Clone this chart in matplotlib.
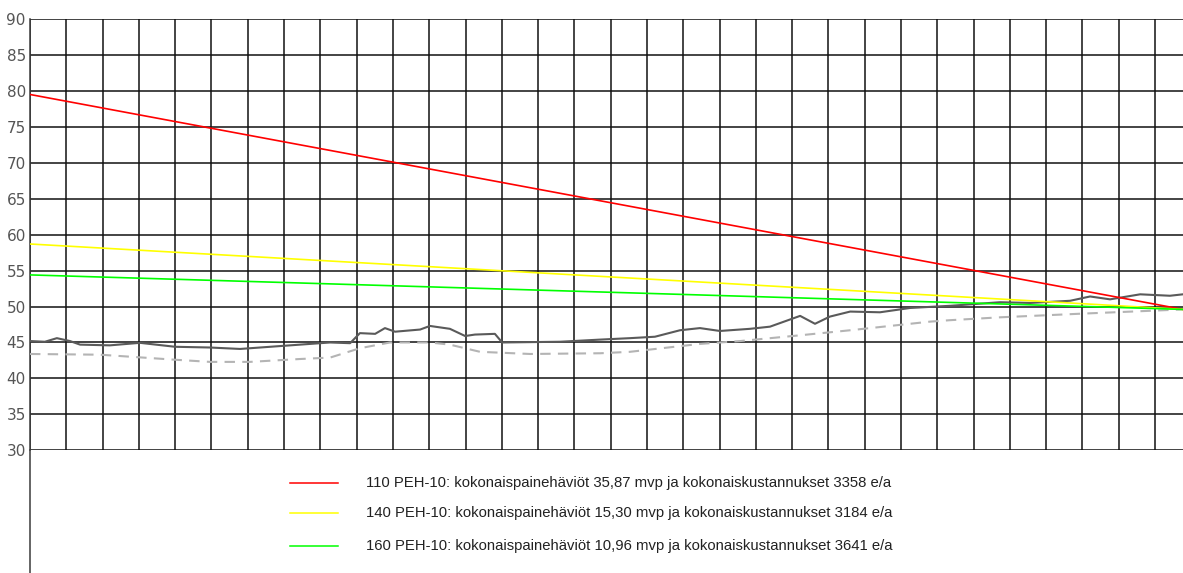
import matplotlib.pyplot as plt
from matplotlib.lines import Line2D

# painetaso pitkin linjaa (x = ruudukon sarakkeet)
x_maasto = [0, 0.41, 0.74, 1.10, 1.38, 2.20, 3.03, 4.00, 4.96, 5.79, 6.89, 8.27, 8.82, 9.09,
            9.51, 9.78, 10.06, 10.75, 11.02, 11.57, 11.99, 12.26, 12.81, 13.01, 14.60, 15.71,
            16.53, 17.22, 17.91, 18.46, 19.01, 19.84, 20.39, 21.22, 21.63, 22.04, 22.60, 23.42,
            24.25, 25.35, 26.73, 27.56, 28.66, 29.21, 29.76, 30.59, 31.41, 31.77]
y_maasto = [45.2, 45.1, 45.6, 45.2, 44.7, 44.6, 44.95, 44.4, 44.3, 44.1, 44.5, 45.0, 44.9, 46.3,
            46.2, 47.0, 46.5, 46.8, 47.3, 46.9, 45.9, 46.1, 46.2, 45.0, 45.1, 45.4,
            45.6, 45.8, 46.7, 47.0, 46.6, 46.9, 47.2, 48.7, 47.6, 48.6, 49.3, 49.2,
            49.8, 50.1, 50.6, 50.5, 50.8, 51.4, 51.0, 51.7, 51.5, 51.7]

x_putki = [0, 1.93, 4.00, 4.96, 6.06, 7.44, 8.27, 9.09, 9.92, 11.02, 11.57, 12.40, 13.78,
           15.71, 16.53, 18.46, 19.57, 21.22, 22.60, 24.80, 25.35, 26.73, 28.94, 31.77]
y_putki = [43.4, 43.3, 42.6, 42.3, 42.3, 42.7, 42.9, 44.2, 45.0, 45.0, 44.7, 43.7, 43.4,
           43.5, 43.7, 44.8, 45.2, 46.0, 46.7, 47.9, 48.1, 48.5, 49.0, 49.6]

# painelinjat alku- ja loppupisteineen
x_paine = [0, 31.77]
paine_110 = [79.5, 49.6]
paine_140 = [58.7, 49.6]
paine_160 = [54.4, 49.6]

selitteet = [
    '110 PEH-10: kokonaispainehäviöt 35,87 mvp ja kokonaiskustannukset 3358 e/a',
    '140 PEH-10: kokonaispainehäviöt 15,30 mvp ja kokonaiskustannukset 3184 e/a',
    '160 PEH-10: kokonaispainehäviöt 10,96 mvp ja kokonaiskustannukset 3641 e/a',
]
varit = ['#ff0000', '#ffff00', '#00ff00']

W, H = 1183, 573
fig = plt.figure(figsize=(W / 100, H / 100), dpi=100)
ax = fig.add_axes([30 / W, 1 - 450.3 / H, 1 - 30 / W, (450.3 - 19) / H])

ax.plot(x_putki, y_putki, color='#b4b4b4', lw=1.5, dashes=(5, 3.5), zorder=3)
ax.plot(x_maasto, y_maasto, color='#5a5a5a', lw=1.5, zorder=3)
for arvot, vari in zip([paine_110, paine_140, paine_160], varit):
    ax.plot(x_paine, arvot, color=vari, lw=1.2, zorder=4)

ax.set_xlim(0, 31.77)
ax.set_ylim(30, 90)
ax.set_xticks(range(0, 32))
ax.set_yticks(range(30, 91, 5))
ax.set_xticklabels([])
ax.grid(True, color='#111111', lw=1.1)
ax.set_axisbelow(True)
ax.tick_params(length=0, pad=3, labelsize=11, labelcolor='#555555')
for lbl in ax.get_yticklabels():
    lbl.set_family(['Liberation Sans Narrow', 'DejaVu Sans'])
for s in ['top', 'right', 'bottom']:
    ax.spines[s].set_visible(False)
ax.spines['left'].set_color('#3a3a3a')
ax.spines['left'].set_linewidth(1.1)

# vasen reunaviiva jatkuu selitealueelle
fig.add_artist(Line2D([30 / W, 30 / W], [0, 1 - 450 / H], color='#3a3a3a', lw=1.1))

# selitteet
rivit_y = [483, 513, 546]
for teksti, vari, yy in zip(selitteet, varit, rivit_y):
    fig.add_artist(Line2D([290 / W, 338 / W], [1 - yy / H] * 2, color=vari, lw=1.1))
    fig.text(366 / W, 1 - yy / H, teksti, fontsize=10.7, family='Liberation Sans',
             color='#222222', va='center', ha='left')

fig.savefig('out.png', dpi=100)
